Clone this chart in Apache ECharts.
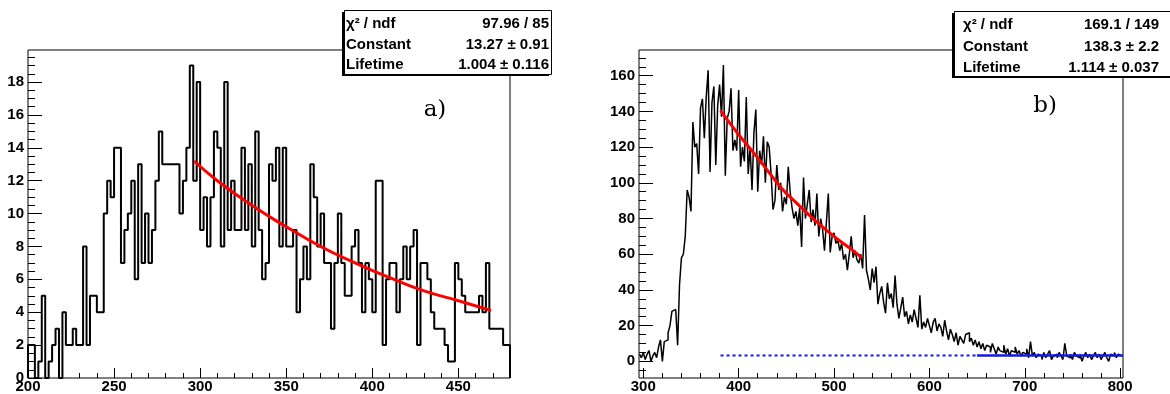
<!DOCTYPE html>
<html><head><meta charset="utf-8">
<script src="https://cdn.jsdelivr.net/npm/echarts@6/dist/echarts.min.js"></script>
<style>html,body{margin:0;padding:0;background:#fff}#c{width:1170px;height:394px}</style>
</head><body><div id="c"></div>
<script>
// ---------- data ----------
const leftBinStart = 200, leftBinWidth = 2;
const leftCounts = [
  2,2,0,1,5,0,1,2,3,0,
  4,2,2,3,2,2,8,2,5,5,
  4,4,10,12,11,14,14,7,9,10,
  12,6,13,7,10,7,9,12,15,13,
  13,13,13,13,10,12,14,19,12,18,
  9,11,8,11,15,14,8,18,9,12,
  9,9,14,9,13,8,15,9,6,7,
  13,12,14,8,14,8,8,9,4,6,
  8,6,13,11,8,10,7,7,3,7,
  10,7,5,5,8,9,7,4,7,6,
  4,12,12,2,6,7,7,4,6,8,
  6,8,9,2,7,7,6,4,3,3,
  3,2,1,1,7,6,5,4,4,4,
  4,5,4,7,3,3,3,3,2,2
];
const leftFitX = [296.5,310,330,350,370,390,410,430,450,469];
const leftFitY = [13.2,12.0,10.5,9.2,8.0,7.0,6.1,5.3,4.7,4.1];

const rightBinStart = 296, rightBinWidth = 2;
const rightCounts = [
  4,2,5,1,4,6,0,3,5,2,
  8,12,0,11,12,16,20,28,29,29,
  9,43,58,60,70,96,92,84,134,120,
  122,105,142,147,125,148,163,106,145,154,
  110,143,155,137,166,104,136,140,153,118,
  124,118,152,109,120,112,148,105,120,96,
  128,141,95,118,110,126,100,123,120,105,
  85,90,110,96,100,84,92,88,109,95,
  86,80,84,76,86,64,103,80,88,96,
  78,85,76,94,70,80,74,62,78,94,
  61,70,72,66,68,62,66,57,60,51,
  60,70,58,62,57,55,60,52,82,51,
  46,40,52,44,53,32,38,42,33,27,
  44,35,38,30,48,32,24,30,36,25,
  28,21,26,22,29,24,19,37,18,22,
  19,24,20,16,22,24,17,21,19,14,
  23,17,12,18,15,11,16,9,14,12,
  10,15,16,11,13,9,12,8,11,7,
  10,6,9,8,5,10,7,4,8,6,
  5,9,4,7,3,6,5,8,4,6,
  3,5,4,7,2,11,3,5,2,4,
  3,1,5,2,4,6,1,3,4,2,
  5,3,1,10,3,2,4,1,5,3,
  2,4,0,3,5,2,4,1,3,5,
  2,4,1,3,5,2,0,4,3,5,
  2,4,3
];
const rightFitX = [381,400,420,445,460,480,500,520,529];
const rightFitY = [140.4,127,114,97,89,79,70,62,58];
const bgLevel = 3.2;
const bgDottedX = [381, 650];
const bgSolidX = [650, 803];

const leftXTicks = [200,250,300,350,400,450];
const leftYTicks = [0,2,4,6,8,10,12,14,16,18];
const rightXTicks = [300,400,500,600,700,800];
const rightYTicks = [0,20,40,60,80,100,120,140,160];

const statNames = ['\u03c7\u00b2 / ndf','Constant','Lifetime'];
const leftStats = ['97.96 / 85','13.27 \u00b1 0.91','1.004 \u00b1 0.116'];
const rightStats = ['169.1 / 149','138.3 \u00b1 2.2','1.114 \u00b1 0.037'];
const panelTags = ['a)','b)'];

// ---------- helpers ----------
function histPoints(start, w, counts, closeStart, closeEnd){
  const pts = [];
  if (closeStart) pts.push([start, 0]);
  counts.forEach((c,i)=>pts.push([start + i*w, c]));
  const end = start + counts.length*w;
  pts.push([end, counts[counts.length-1]]);
  if (closeEnd) pts.push([end, 0]);
  return pts;
}
function zip(xs, ys){ return xs.map((x,i)=>[x, ys[i]]); }
function range(a, b, s){ const r=[]; for(let v=a; v<=b+1e-9; v+=s) r.push(Math.round(v*1000)/1000); return r; }

const labelStyle = {color:'#000', fontSize:15, fontWeight:'bold', fontFamily:'Liberation Sans, Arial, sans-serif'};
function majorAxis(gridIndex, pos, min, max, ticks, len, margin){
  return {type:'value', gridIndex, position:pos, min, max, axisLine:{show:false, onZero:false}, splitLine:{show:false},
    axisTick:{show:true, inside:true, length:len, lineStyle:{color:'#000', width:1}, customValues:ticks},
    axisLabel:Object.assign({show:true, customValues:ticks, margin:margin}, labelStyle)};
}
function minorAxis(gridIndex, pos, min, max, ticks, len){
  return {type:'value', gridIndex, position:pos, min, max, axisLine:{show:false, onZero:false}, splitLine:{show:false},
    axisTick:{show:true, inside:true, length:len, lineStyle:{color:'#000', width:1}, customValues:ticks},
    axisLabel:{show:false}};
}

const LX = [200, 480], LY = [0, 19.95];
const RX = [295.5, 803], RY = [-9.35, 174.4];

const statFont = 'bold 15px "Liberation Sans", Arial, sans-serif';
function statBox(x, y, w, h, nameX, valX, rows, vals){
  const els = [
    {type:'rect', z:100, shape:{x:x-2, y:y+2, width:w, height:h}, style:{fill:'#000'}},
    {type:'rect', z:101, shape:{x:x+0.5, y:y+0.5, width:w, height:h}, style:{fill:'#fff', stroke:'#000', lineWidth:1}}
  ];
  rows.forEach((ry,i)=>{
    els.push({type:'text', z:102, style:{text:statNames[i], x:nameX, y:ry, font:statFont, fill:'#000', align:'left', verticalAlign:'middle', textAlign:'left', textVerticalAlign:'middle'}});
    els.push({type:'text', z:102, style:{text:vals[i], x:valX, y:ry, font:statFont, fill:'#000', align:'right', verticalAlign:'middle', textAlign:'right', textVerticalAlign:'middle'}});
  });
  return els;
}
const tagFont = '23px "DejaVu Serif", "Liberation Serif", serif';

const option = {
  animation:false,
  grid:[
    {left:28, top:50, width:482, height:328, show:true, borderColor:'#000', borderWidth:1, backgroundColor:'transparent', containLabel:false, outerBoundsMode:'none'},
    {left:639, top:50, width:484, height:328, show:true, borderColor:'#000', borderWidth:1, backgroundColor:'transparent', containLabel:false, outerBoundsMode:'none'}
  ],
  xAxis:[
    majorAxis(0, 'bottom', LX[0], LX[1], leftXTicks, 10, 1),
    minorAxis(0, 'bottom', LX[0], LX[1], range(210, 470, 10), 5),
    majorAxis(1, 'bottom', RX[0], RX[1], rightXTicks, 10, 1),
    minorAxis(1, 'bottom', RX[0], RX[1], range(300, 800, 20), 5)
  ],
  yAxis:[
    majorAxis(0, 'left', LY[0], LY[1], leftYTicks, 14, 4),
    minorAxis(0, 'left', LY[0], LY[1], range(0.5, 19.5, 0.5), 7),
    majorAxis(1, 'left', RY[0], RY[1], rightYTicks, 14, 4),
    minorAxis(1, 'left', RY[0], RY[1], range(-5, 170, 5), 7)
  ],
  series:[
    {type:'line', xAxisIndex:0, yAxisIndex:0, step:'end', symbol:'none', z:2,
      data:histPoints(leftBinStart, leftBinWidth, leftCounts, true, true),
      lineStyle:{color:'#000', width:2}},
    {type:'line', xAxisIndex:0, yAxisIndex:0, smooth:true, symbol:'none', z:3,
      data:zip(leftFitX, leftFitY), lineStyle:{color:'#ff0000', width:3}},
    {type:'line', xAxisIndex:2, yAxisIndex:2, symbol:'none', z:1,
      data:zip(bgDottedX, [bgLevel,bgLevel]), lineStyle:{color:'#1515ee', width:2, type:[3,3]}},
    {type:'line', xAxisIndex:2, yAxisIndex:2, step:'end', symbol:'none', z:2,
      data:histPoints(rightBinStart, rightBinWidth, rightCounts, false, false),
      lineStyle:{color:'#000', width:1.5}},
    {type:'line', xAxisIndex:2, yAxisIndex:2, symbol:'none', z:3,
      data:zip(bgSolidX, [bgLevel,bgLevel]), lineStyle:{color:'#1515ee', width:2.5}},
    {type:'line', xAxisIndex:2, yAxisIndex:2, smooth:true, symbol:'none', z:4,
      data:zip(rightFitX, rightFitY), lineStyle:{color:'#ff0000', width:3}}
  ],
  graphic:[].concat(
    statBox(344, 10, 207, 64, 346, 549, [23.5, 45, 64.5], leftStats),
    statBox(954, 11, 222, 65, 963, 1159, [24.5, 47, 67.5], rightStats),
    [
      {type:'text', z:102, style:{text:panelTags[0], x:435, y:110, font:tagFont, fill:'#000', align:'center', verticalAlign:'middle', textAlign:'center', textVerticalAlign:'middle'}},
      {type:'text', z:102, style:{text:panelTags[1], x:1045, y:106, font:tagFont, fill:'#000', align:'center', verticalAlign:'middle', textAlign:'center', textVerticalAlign:'middle'}}
    ]
  )
};
const chart = echarts.init(document.getElementById('c'), null, {renderer:'canvas'});
chart.setOption(option);
</script>
</body></html>
